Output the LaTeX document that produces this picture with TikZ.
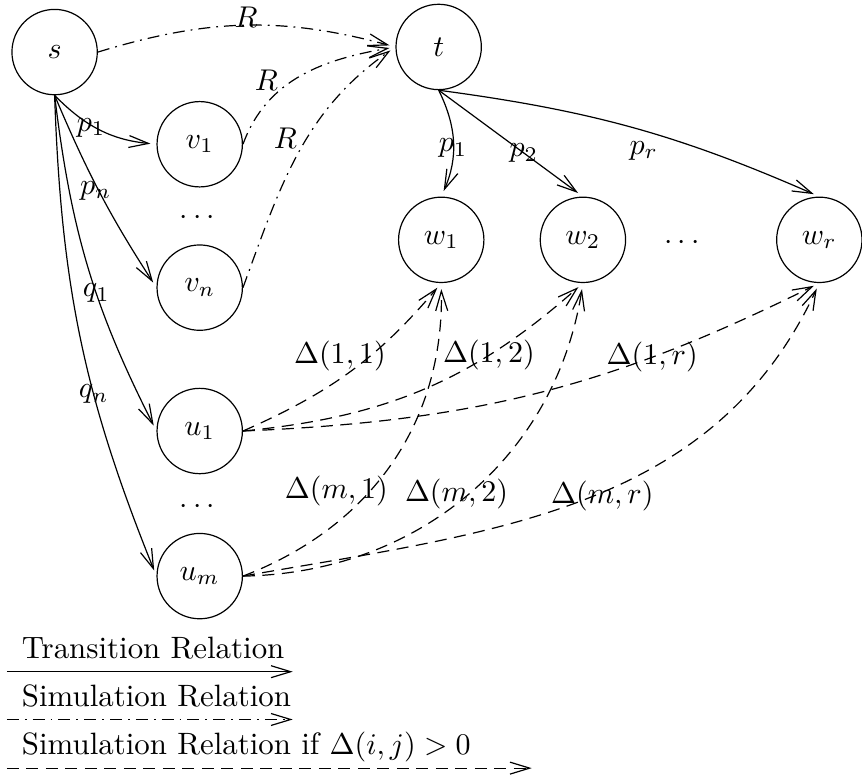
\documentclass[tikz,border=0pt]{standalone}
\usepackage{amsmath,amssymb}
\usetikzlibrary{arrows.meta}

\begin{document}
\begin{tikzpicture}[
  state/.style={draw,circle,minimum size=1cm,inner sep=0pt},
  trans/.style={-{Straight Barb[length=2.3mm,width=1.4mm]},shorten >=2pt},
  sim/.style={trans,dash pattern=on 4pt off 2pt on 0.6pt off 2pt},
  simif/.style={trans,dash pattern=on 4pt off 2.5pt},
  legend/.style={anchor=base west,inner sep=0pt,font=\fontsize{10.3}{12}\selectfont}
]
  \useasboundingbox (0,0) rectangle (10.10,-9.11);

  \node[state] (s) at (0.64,-0.61) {$s$};
  \node[state] (t) at (5.14,-0.55) {$t$};
  \node[state] (v1) at (2.34,-1.69) {$v_1$};
  \node (vdots) at (2.34,-2.55) {$\cdots$};
  \node[state] (vn) at (2.34,-3.37) {$v_n$};
  \node[state] (u1) at (2.34,-5.05) {$u_1$};
  \node (udots) at (2.34,-5.94) {$\cdots$};
  \node[state] (um) at (2.34,-6.75) {$u_m$};
  \node[state] (w1) at (5.17,-2.81) {$w_1$};
  \node[state] (w2) at (6.83,-2.81) {$w_2$};
  \node (wdots) at (8.02,-2.85) {$\cdots$};
  \node[state] (wr) at (9.60,-2.81) {$w_r$};

  \draw[trans] (s.south) to[bend right=20] node[pos=0.4,yshift=-1pt] {$p_1$} (v1.west);
  \draw[trans] (s.south) to[bend right=5] node[pos=0.48,xshift=-1pt] {$p_n$} (vn.west);
  \draw[trans] (s.south) to[bend right=10] node[pos=0.58] {$q_1$} (u1.west);
  \draw[trans] (s.south) to[bend right=10] node[pos=0.62] {$q_n$} (um.west);

  \draw[sim] (s.east) to[bend left=16] node[above=-1pt,inner sep=0pt] {$R$} (t.west);
  \draw[sim] (v1.east) to[out=70,in=190] node[pos=0.45,left=2pt] {$R$} (t.west);
  \draw[sim] (vn.east) to[out=70,in=215] node[pos=0.56,left] {$R$} (t.west);

  \draw[trans] (t.south) to[bend left=25] node[pos=0.55] {$p_1$} (w1.north);
  \draw[trans] (t.south) to node[pos=0.59] {$p_2$} (w2.north);
  \draw[trans] (t.south) to[bend left=8] node[pos=0.53,below] {$p_r$} (wr.north);

  \draw[simif] (u1.east) to[bend right=13] node[pos=0.6,xshift=-10pt] {$\Delta(1,1)$} (w1.south);
  \draw[simif] (u1.east) to[bend right=18] node[pos=0.7] {$\Delta(1,2)$} (w2.south);
  \draw[simif] (u1.east) to[bend right=12] node[pos=0.71] {$\Delta(1,r)$} (wr.south);
  \draw[simif] (um.east) to[out=21,in=271] node[pos=0.4,xshift=-11pt] {$\Delta(m,1)$} (w1.south);
  \draw[simif] (um.east) to[out=1,in=261] node[pos=0.5,xshift=-4pt] {$\Delta(m,2)$} (w2.south);
  \draw[simif] (um.east) to[out=10,in=245] node[pos=0.5,xshift=6pt,yshift=1pt] {$\Delta(m,r)$} (wr.south);

  \node[legend] (ltrans) at (0.25,-7.71) {Transition Relation};
  \node[legend] (lsim) at (0.25,-8.28) {Simulation Relation};
  \node[legend] (lsimif) at (0.25,-8.84) {Simulation Relation if $\Delta(i,j)>0$};
  \coordinate (ta) at (0.08,-7.87);
  \coordinate (tb) at (3.43,-7.87);
  \coordinate (sa) at (0.08,-8.43);
  \coordinate (sb) at (3.43,-8.43);
  \coordinate (da) at (0.08,-9.00);
  \coordinate (db) at (6.23,-9.00);
  \draw[trans,shorten >=0pt] (ta) -- (tb);
  \draw[sim,shorten >=0pt] (sa) -- (sb);
  \draw[simif,shorten >=0pt] (da) -- (db);
\end{tikzpicture}
\end{document}
